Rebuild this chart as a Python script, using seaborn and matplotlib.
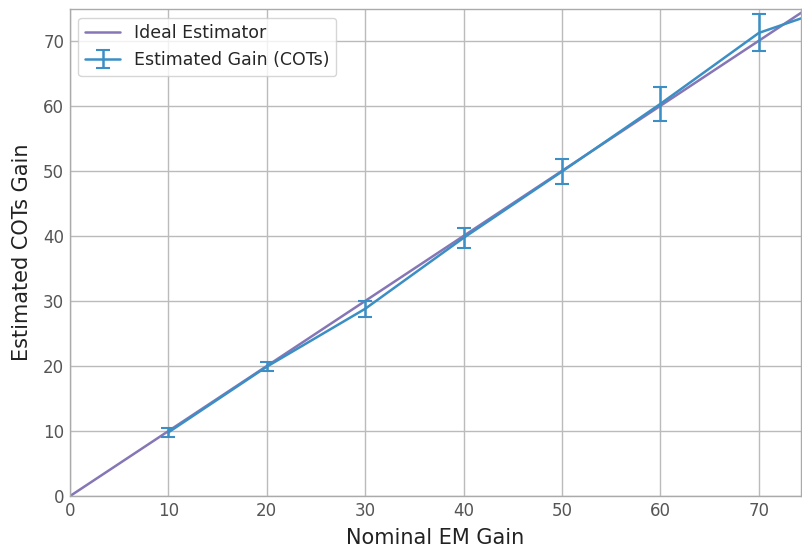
import numpy as np
import pandas as pd
import seaborn as sns
import matplotlib
matplotlib.use("Agg")
import matplotlib.pyplot as plt

nominal_gain = [10, 20, 30, 40, 50, 60, 70, 80]
estimated_gain = [9.8, 19.9, 28.8, 39.7, 49.9, 60.3, 71.2, 76.4]
gain_error = [0.7, 0.7, 1.25, 1.5, 1.9, 2.6, 2.85, 3.2]
ideal_x = [0, 80]
ideal_y = [0, 80]

sns.set_theme(style="whitegrid")
plt.rcParams['font.family'] = ['DejaVu Sans']

fig, ax = plt.subplots(figsize=(8.02, 5.52), dpi=100)
fig.subplots_adjust(left=0.087, right=0.999, top=0.984, bottom=0.101)

ideal = pd.DataFrame({'x': ideal_x, 'y': ideal_y})
sns.lineplot(data=ideal, x='x', y='y', ax=ax, color='#8676b6', linewidth=1.8,
             label='Ideal Estimator')
ax.errorbar(nominal_gain, estimated_gain, yerr=gain_error, color='#3b8fc4',
            linewidth=1.8, capsize=5, elinewidth=1.8, capthick=1.5,
            label='Estimated Gain (COTs)')

ax.set_xlim(0, 74.3)
ax.set_ylim(0, 74.9)
ax.set_xticks(np.arange(0, 71, 10))
ax.set_yticks(np.arange(0, 71, 10))
ax.set_xlabel('Nominal EM Gain', fontsize=15, color='#222222', labelpad=6)
ax.set_ylabel('Estimated COTs Gain', fontsize=15, color='#222222', labelpad=8)
ax.tick_params(axis='both', labelsize=12, colors='#555555', length=0, pad=4)
ax.grid(True, color='#bbbbbb', linewidth=1.0)
for s in ax.spines.values():
    s.set_color('#aaaaaa')
    s.set_linewidth(1.0)
ax.legend(loc='upper left', fontsize=12.5, frameon=True)

plt.savefig('out.png', dpi=100)
